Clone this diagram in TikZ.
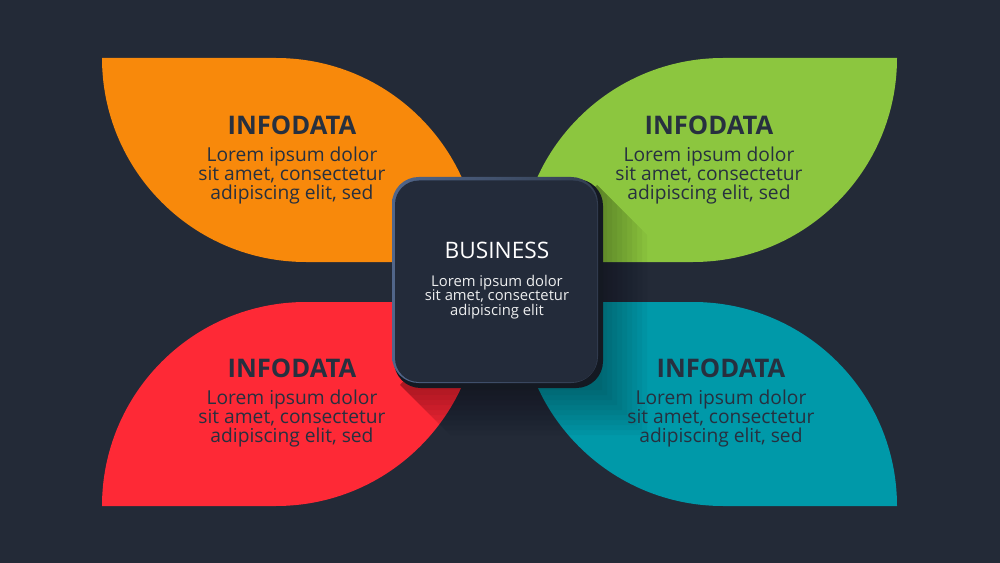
\documentclass[tikz,border=0pt]{standalone}
\usepackage{fontspec}
\setmainfont{Open Sans}
\definecolor{bg}{HTML}{232A37}
\definecolor{orangeL}{HTML}{F8890B}
\definecolor{greenL}{HTML}{8CC63F}
\definecolor{redL}{HTML}{FE2936}
\definecolor{tealL}{HTML}{0099A9}
\definecolor{ink}{HTML}{27303F}
\definecolor{sqfill}{HTML}{232B3A}
\definecolor{sqdark}{HTML}{141922}
\definecolor{sqlight}{HTML}{51668A}
\definecolor{sqlight2}{HTML}{323D50}
\tikzset{
  leaftitle/.style={text=ink, font=\fontsize{19.2}{22}\selectfont\bfseries, inner sep=0pt},
  leafbody/.style={text=ink, font=\fontsize{14.4}{14.4}\selectfont, align=center, inner sep=0pt},
  sqtitle/.style={text=white, font=\fontsize{17}{19}\selectfont, inner sep=0pt},
  sqbody/.style={text=white!92!bg, font=\fontsize{11.1}{11.1}\selectfont, align=center, inner sep=0pt},
}
\newcommand{\leafpath}{(102,58) -- (276,58) .. controls (388.7,58) and (480,149.3) .. (480,262) -- (306,262) .. controls (193.3,262) and (102,170.7) .. (102,58) -- cycle}
\begin{document}
\begin{tikzpicture}[x=0.75pt,y=-0.75pt]
\fill[bg] (0,0) rectangle (1000,563);
\useasboundingbox (0,0) rectangle (1000,563);
% leaves
\fill[orangeL] \leafpath;
\begin{scope}[shift={(999,0)},xscale=-1]
  \fill[greenL] \leafpath;
\end{scope}
\begin{scope}[shift={(0,564)},yscale=-1]
  \fill[redL] \leafpath;
\end{scope}
\begin{scope}[shift={(999,564)},xscale=-1,yscale=-1]
  \fill[tealL] \leafpath;
\end{scope}
% long shadow of the centre square (fading)
\foreach \L in {5,10,...,50}{
  \fill[black,opacity=0.035] (597,185) -- ++(\L,\L) -- (597+\L,385+\L) -- (400+\L,385+\L) -- (400,385) -- cycle;
}
% centre square
\fill[sqdark, rounded corners=20] (394,179) rectangle (603,388);
\shade[left color=sqlight, right color=sqlight2, rounded corners=20] (392,177) rectangle (598,383);
\fill[sqfill, rounded corners=18] (395,180.5) rectangle (597,382);
\node[sqtitle] (sqt) at (497,250) {BUSINESS};
\node[sqbody] (sqb) at (497,297) {Lorem ipsum dolor\\sit amet, consectetur\\adipiscing elit};
% leaf texts
\node[leaftitle] (ot) at (292,125) {INFODATA};
\node[leafbody] (ob) at (292,175.5) {Lorem ipsum dolor\\sit amet, consectetur\\adipiscing elit, sed};
\node[leaftitle] (gt) at (709,125) {INFODATA};
\node[leafbody] (gb) at (709,175.5) {Lorem ipsum dolor\\sit amet, consectetur\\adipiscing elit, sed};
\node[leaftitle] (rt) at (292,368) {INFODATA};
\node[leafbody] (rb) at (292,418.5) {Lorem ipsum dolor\\sit amet, consectetur\\adipiscing elit, sed};
\node[leaftitle] (tt) at (721,368) {INFODATA};
\node[leafbody] (tb) at (721,418.5) {Lorem ipsum dolor\\sit amet, consectetur\\adipiscing elit, sed};
\end{tikzpicture}
\end{document}
